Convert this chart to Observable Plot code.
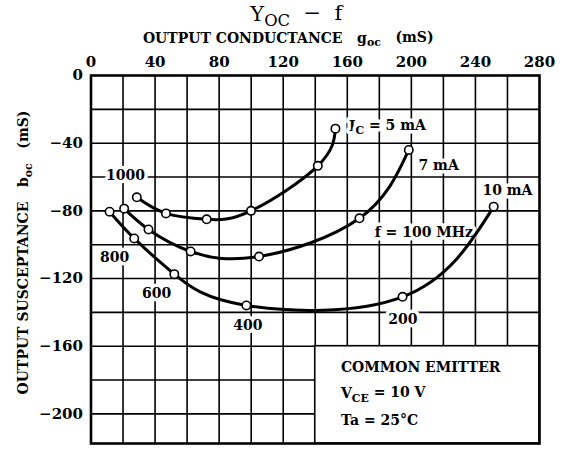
<!DOCTYPE html>
<html><head><meta charset="utf-8">
<script src="https://cdn.jsdelivr.net/npm/d3@7"></script>
<script src="https://cdn.jsdelivr.net/npm/@observablehq/plot@0.6"></script>
<style>body{margin:0;background:#fff}</style>
</head><body><div id="chart"></div>
<script>
// frequency (MHz) at each marked point, left to right along each curve
const freqs = [1000, 800, 600, 400, 200, 100];
// Ic = 5 mA
const g5 = [28.6, 46.8, 72.2, 99.9, 141.6, 152.6];
const b5 = [-72, -81.5, -85, -80, -53.4, -31.4];
// Ic = 7 mA
const g7 = [20.7, 35.9, 62.2, 104.9, 167.6, 198.4];
const b7 = [-78.7, -91, -104, -107, -84.4, -44];
// Ic = 10 mA
const g10 = [11.6, 27, 52, 97, 194.5, 251.4];
const b10 = [-80.5, -96.3, -117.4, -135.9, -130.8, -77.5];

const xTicks = [0, 40, 80, 120, 160, 200, 240, 280];
const yTicks = [0, -40, -80, -120, -160, -200];
const xGrid = [20, 40, 60, 80, 100, 120, 140, 160, 180, 200, 220, 240, 260];
const yGrid = [-20, -40, -60, -80, -100, -120, -140, -160, -180, -200];

const curveNames = ["5 mA", "7 mA", "10 mA"];
// first label is left-aligned, the others centred
const curveLabels = ["I_{C} = 5 mA", "7 mA", "10 mA"];
const curveLabelG = [161, 217, 260];
const curveLabelB = [-30, -53, -68];

const freqLabels = ["1000", "800", "600", "400", "200", "f = 100 MHz"];
const freqLabelG = [21.6, 14.7, 41, 98, 194.7, 207.8];
const freqLabelB = [-59, -107.5, -129, -148, -144.4, -92.7];

const noteLines = ["COMMON EMITTER", "V_{CE} = 10 V", "Ta = 25°C"];
const noteB = [-172.5, -188.2, -204];

const series = [];
[[g5, b5], [g7, b7], [g10, b10]].forEach(([g, b], k) => {
  g.forEach((v, i) => series.push({curve: curveNames[k], f: freqs[i], g: v, b: b[i]}));
});

const FONT = "DejaVu Serif";
const fmtY = d => d === 0 ? "0" : "\u2212" + (-d);
const labelStyle = {fontSize: 14, fontWeight: "bold", stroke: "white", strokeWidth: 7, fill: "black"};

const chart = Plot.plot({
  width: 564,
  height: 450,
  marginLeft: 90.5,
  marginRight: 25,
  marginTop: 75,
  marginBottom: 7,
  style: {fontFamily: FONT, background: "white"},
  x: {domain: [0, 280]},
  y: {domain: [-217.5, 0]},
  marks: [
    Plot.ruleX(xGrid, {stroke: "black", strokeWidth: 1.6}),
    Plot.ruleY(yGrid, {stroke: "black", strokeWidth: 1.6}),
    Plot.rect([{x1: 140, x2: 280, y1: -217.5, y2: -160}], {x1: "x1", x2: "x2", y1: "y1", y2: "y2", fill: "white", stroke: "black", strokeWidth: 1.6}),
    Plot.text(freqLabels, {x: (d, i) => freqLabelG[i], y: (d, i) => freqLabelB[i], text: d => d, ...labelStyle}),
    Plot.text(curveLabels.slice(0, 1), {x: (d, i) => curveLabelG[i], y: (d, i) => curveLabelB[i], text: d => d, textAnchor: "start", ...labelStyle}),
    Plot.text(curveLabels.slice(1), {x: (d, i) => curveLabelG[i + 1], y: (d, i) => curveLabelB[i + 1], text: d => d, ...labelStyle}),
    Plot.line(series, {x: "g", y: "b", z: "curve", curve: "natural", stroke: "black", strokeWidth: 3}),
    Plot.dot(series, {x: "g", y: "b", r: 4.2, fill: "white", stroke: "black", strokeWidth: 1.6}),
    Plot.text(noteLines, {x: 156, y: (d, i) => noteB[i], text: d => d, textAnchor: "start", fontSize: 14, fontWeight: "bold", fill: "black"}),
    Plot.frame({stroke: "black", strokeWidth: 2.6}),
    Plot.axisX({anchor: "top", ticks: xTicks, tickSize: 0, tickPadding: 9, label: null, fontSize: 15, fontWeight: "bold", fill: "black"}),
    Plot.axisY({anchor: "left", ticks: yTicks, tickSize: 0, tickPadding: 8, tickFormat: fmtY, label: null, fontSize: 15, fontWeight: "bold", fill: "black"}),
    Plot.text(["Y_{OC}  \u2212  f"], {frameAnchor: "top", lineAnchor: "middle", textAnchor: "middle", dx: -19, dy: -61, fontSize: 21, fill: "black"}),
    Plot.text(["OUTPUT CONDUCTANCE   g_{oc}   (mS)"], {frameAnchor: "top", lineAnchor: "middle", textAnchor: "middle", dx: -27, dy: -37, fontSize: 14, fontWeight: "bold", fill: "black"}),
    Plot.text(["OUTPUT SUSCEPTANCE   b_{oc}   (mS)"], {frameAnchor: "left", lineAnchor: "middle", textAnchor: "middle", dx: -67, dy: -7, rotate: -90, fontSize: 14, fontWeight: "bold", fill: "black"})
  ]
});

// render subscripts written as _{...}
d3.select(chart).selectAll("text").each(function () {
  const el = this;
  if (el.querySelector("tspan")) return;
  const s = el.textContent;
  if (!s.includes("_{")) return;
  el.textContent = "";
  const re = /_\{([^}]*)\}/g;
  let last = 0, m, shifted = false;
  const add = (t, sub) => {
    if (!t) return;
    const ts = document.createElementNS("http://www.w3.org/2000/svg", "tspan");
    ts.textContent = t;
    if (sub) { ts.setAttribute("dy", "0.3em"); ts.setAttribute("font-size", "78%"); shifted = true; }
    else if (shifted) { ts.setAttribute("dy", "-0.3em"); shifted = false; }
    el.appendChild(ts);
  };
  while ((m = re.exec(s))) {
    add(s.slice(last, m.index), false);
    add(m[1], true);
    last = re.lastIndex;
  }
  add(s.slice(last), false);
});

document.getElementById("chart").appendChild(chart);
</script>
</body></html>
